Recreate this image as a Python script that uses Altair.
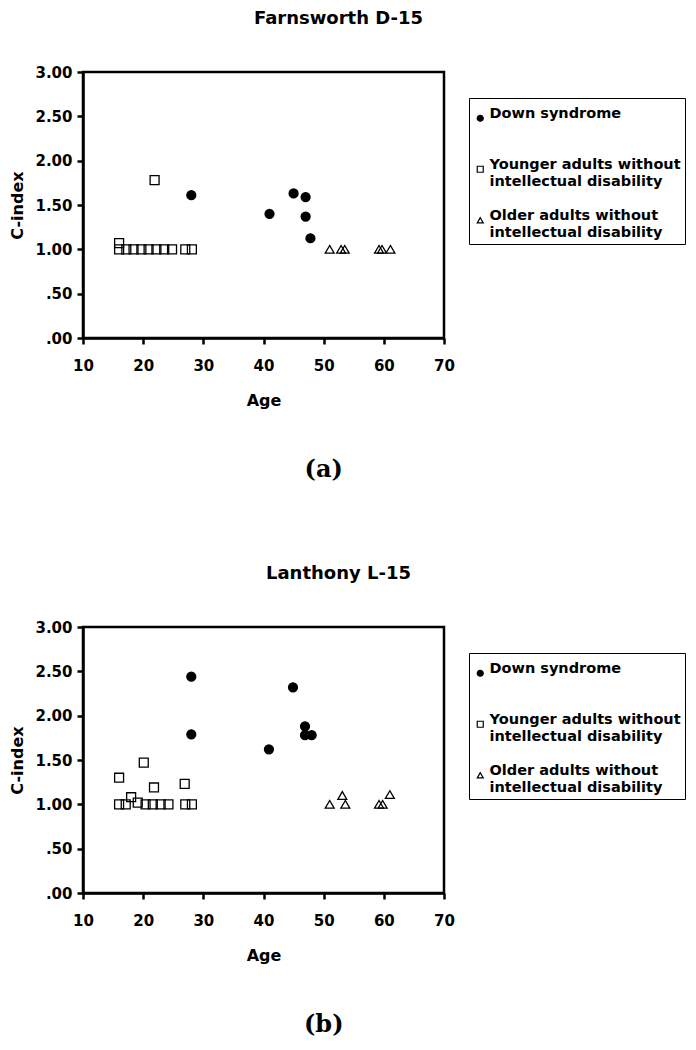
import altair as alt
import pandas as pd

GROUPS = [
    "Down syndrome",
    "Younger adults without intellectual disability",
    "Older adults without intellectual disability",
]

# ---- (a) Farnsworth D-15 ----
a_down_age = [28.0, 41.0, 45.0, 47.0, 47.0, 47.8]
a_down_c = [1.61, 1.40, 1.63, 1.59, 1.37, 1.125]
a_young_age = [16.0, 16.0, 17.2, 18.4, 19.7, 20.9, 21.9, 22.2, 23.5, 24.8, 27.0, 28.1]
a_young_c = [1.00, 1.07, 1.00, 1.00, 1.00, 1.00, 1.78, 1.00, 1.00, 1.00, 1.00, 1.00]
a_old_age = [51.0, 52.9, 53.5, 59.2, 59.7, 61.1]
a_old_c = [1.00, 1.00, 1.00, 1.00, 1.00, 1.00]

# ---- (b) Lanthony L-15 ----
b_down_age = [28.0, 28.0, 40.9, 44.9, 46.9, 46.9, 48.0]
b_down_c = [2.44, 1.79, 1.62, 2.32, 1.88, 1.78, 1.78]
b_young_age = [16.0, 17.1, 18.0, 19.1, 20.4, 21.6, 22.9, 24.2, 27.0, 28.1, 16.0, 20.1, 21.8, 26.9]
b_young_c = [1.00, 1.00, 1.08, 1.02, 1.00, 1.00, 1.00, 1.00, 1.00, 1.00, 1.30, 1.47, 1.19, 1.23]
b_old_age = [51.0, 53.1, 53.6, 59.2, 59.8, 61.0]
b_old_c = [1.00, 1.10, 1.00, 1.00, 1.00, 1.11]

X_TICKS = [10, 20, 30, 40, 50, 60, 70]
Y_TICKS = [0.0, 0.5, 1.0, 1.5, 2.0, 2.5, 3.0]

SANS = "DejaVu Sans"
SERIF = "DejaVu Serif"


def make_df(groups):
    rows = []
    for g, ages, cs in groups:
        for x, y in zip(ages, cs):
            rows.append({"Age": x, "C": y, "Group": g, "Marker": g})
    return pd.DataFrame(rows)


LABEL_EXPR = (
    "indexof(datum.label, ' intellectual') > 0 ? "
    "[slice(datum.label, 0, indexof(datum.label, ' intellectual')), 'intellectual disability'] "
    ": datum.label"
)


def legend():
    return alt.Legend(
        title=" ",
        titleFontSize=6,
        titlePadding=3,
        orient="none",
        legendX=386,
        legendY=26,
        labelExpr=LABEL_EXPR,
        labelFont=SANS,
        labelFontSize=14.5,
        labelFontWeight="bold",
        labelColor="black",
        labelBaseline="alphabetic",
        labelLimit=0,
        labelOffset=2,
        padding=4,
        rowPadding=19,
        gridAlign="all",
        strokeColor="black",
        symbolSize=36,
        symbolStrokeWidth=1.2,
    )


def panel(df, title):
    pts = alt.Chart(df).mark_point(opacity=1, strokeWidth=1.3).encode(
        x=alt.X(
            "Age:Q",
            scale=alt.Scale(domain=[10, 70], nice=False, zero=False),
            axis=alt.Axis(values=X_TICKS, title="Age", format="d",
                          labelFlush=False, labelPadding=14, titlePadding=19),
        ),
        y=alt.Y(
            "C:Q",
            scale=alt.Scale(domain=[0, 3], nice=False),
            axis=alt.Axis(
                values=Y_TICKS,
                title="C-index",
                labelExpr="datum.value < 1 ? substring(format(datum.value, '.2f'), 1) : format(datum.value, '.2f')",
                titlePadding=9,
            ),
        ),
        shape=alt.Shape(
            "Group:N",
            scale=alt.Scale(domain=GROUPS, range=["circle", "square", "triangle-up"]),
            legend=legend(),
        ),
        fill=alt.Fill(
            "Group:N",
            scale=alt.Scale(domain=GROUPS, range=["black", "transparent", "transparent"]),
            legend=legend(),
        ),
        stroke=alt.Stroke(
            "Group:N",
            scale=alt.Scale(domain=GROUPS, range=["black", "black", "black"]),
            legend=legend(),
        ),
        # marker sizes: circle, triangle, square (alphabetical order of Marker)
        size=alt.Size(
            "Marker:N",
            scale=alt.Scale(range=[80, 80, 58]),
            legend=None,
        ),
    ).properties(
        width=361,
        height=266,
        title=alt.TitleParams(
            title,
            font=SANS,
            fontSize=18,
            fontWeight="bold",
            color="black",
            anchor="middle",
            frame="group",
            dx=75,
            offset=37,
        ),
    )
    return pts


df_a = make_df([
    (GROUPS[0], a_down_age, a_down_c),
    (GROUPS[1], a_young_age, a_young_c),
    (GROUPS[2], a_old_age, a_old_c),
])
df_b = make_df([
    (GROUPS[0], b_down_age, b_down_c),
    (GROUPS[1], b_young_age, b_young_c),
    (GROUPS[2], b_old_age, b_old_c),
])


def wrap(ch, tag):
    return alt.vconcat(
        ch,
        title=alt.TitleParams(
            tag,
            orient="bottom",
            font=SERIF,
            fontSize=24,
            fontWeight="bold",
            color="black",
            anchor="middle",
            dx=-24,
            offset=49,
        ),
    ).resolve_scale(
        shape="independent", fill="independent", stroke="independent", size="independent"
    ).resolve_legend(
        shape="independent", fill="independent", stroke="independent", size="independent"
    )


chart = alt.vconcat(
    wrap(panel(df_a, "Farnsworth D-15"), "(a)"),
    wrap(panel(df_b, "Lanthony L-15"), "(b)"),
    spacing=80,
).resolve_scale(
    shape="independent", fill="independent", stroke="independent", size="independent"
).resolve_legend(
    shape="independent", fill="independent", stroke="independent", size="independent"
).properties(
    padding=0,
).configure_view(
    stroke="black",
    strokeWidth=2.5,
).configure_axis(
    grid=False,
    domainColor="black",
    domainWidth=2.5,
    tickColor="black",
    tickWidth=2.5,
    tickSize=6,
    labelFont=SANS,
    labelFontSize=15,
    labelFontWeight="bold",
    labelColor="black",
    labelPadding=5,
    titleFont=SANS,
    titleFontSize=16,
    titleFontWeight="bold",
    titleColor="black",
)

chart.save("out.html", embed_options={"renderer": "svg", "actions": False})
